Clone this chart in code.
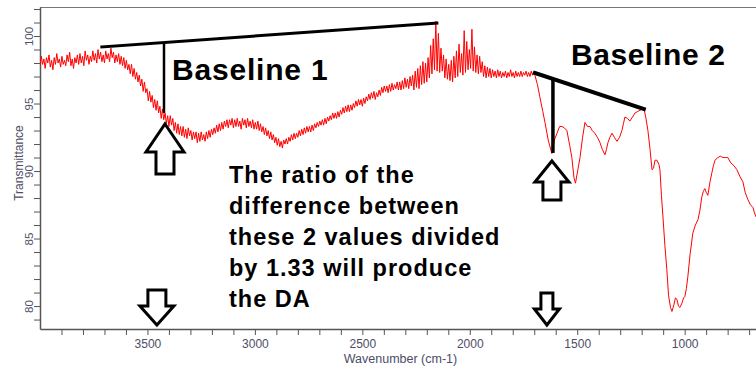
<!DOCTYPE html>
<html>
<head>
<meta charset="utf-8">
<script src="https://cdn.jsdelivr.net/npm/d3@7"></script>
<style>
  body { margin: 0; background: #fff; }
  text { font-family: 'Liberation Sans', Arial, sans-serif; }
</style>
</head>
<body>
<div id="chart"></div>
<script>
// FTIR spectrum, [wavenumber, transmittance]
// noisy part, 4000 - 1700 cm-1
var highRange = [
  [4000, 97.8], [3994, 98.5], [3988, 97.9], [3982, 98.3], [3976, 97.6], [3970, 98.4], [3964, 98.0], [3958, 98.6], [3952, 97.7], [3946, 98.2],
  [3940, 97.5], [3934, 98.4], [3928, 97.9], [3922, 98.7], [3916, 98.0], [3910, 98.3], [3904, 97.7], [3898, 98.5], [3892, 97.9], [3886, 98.2],
  [3880, 97.8], [3874, 98.6], [3868, 98.1], [3862, 98.8], [3856, 97.8], [3850, 98.3], [3844, 97.6], [3838, 98.4], [3832, 98.0], [3826, 98.6],
  [3820, 97.9], [3814, 98.7], [3808, 98.0], [3802, 98.5], [3796, 97.8], [3790, 98.9], [3784, 98.2], [3778, 98.6], [3772, 97.9], [3766, 98.5],
  [3760, 98.1], [3754, 98.9], [3748, 98.2], [3742, 98.7], [3736, 98.0], [3730, 99.0], [3724, 98.3], [3718, 98.8], [3712, 98.1], [3706, 98.6],
  [3700, 98.0], [3694, 98.9], [3688, 98.3], [3682, 98.7], [3676, 98.1], [3670, 99.1], [3664, 98.4], [3658, 98.8], [3652, 98.0], [3646, 98.6],
  [3640, 98.1], [3634, 98.7], [3628, 97.9], [3622, 98.5], [3616, 97.8], [3610, 98.4], [3604, 97.6], [3598, 98.2], [3592, 97.5], [3586, 97.9],
  [3580, 97.2], [3574, 97.9], [3568, 97.0], [3562, 97.6], [3556, 96.8], [3550, 97.3], [3544, 96.6], [3538, 97.1], [3532, 96.3], [3526, 96.8],
  [3520, 95.9], [3514, 96.6], [3508, 95.8], [3502, 96.1], [3496, 95.2], [3490, 95.9], [3484, 95.1], [3478, 95.6], [3472, 94.7], [3466, 95.3],
  [3460, 94.5], [3454, 95.2], [3448, 94.3], [3442, 94.8], [3436, 93.9], [3430, 94.6], [3424, 93.8], [3418, 94.3], [3412, 93.5], [3406, 94.1],
  [3400, 93.3], [3394, 94.1], [3388, 93.4], [3382, 93.9], [3376, 93.0], [3370, 93.6], [3364, 92.8], [3358, 93.5], [3352, 92.7], [3346, 93.3],
  [3340, 92.6], [3334, 93.3], [3328, 92.5], [3322, 93.1], [3316, 92.4], [3310, 93.2], [3304, 92.6], [3298, 93.0], [3292, 92.3], [3286, 92.9],
  [3280, 92.4], [3274, 92.9], [3268, 92.1], [3262, 92.8], [3256, 92.2], [3250, 92.9], [3244, 92.3], [3238, 92.7], [3232, 92.2], [3226, 92.9],
  [3220, 92.4], [3214, 93.0], [3208, 92.5], [3202, 93.1], [3196, 92.7], [3190, 93.2], [3184, 92.8], [3178, 93.4], [3172, 92.9], [3166, 93.5],
  [3160, 93.0], [3154, 93.6], [3148, 93.1], [3142, 93.7], [3136, 93.3], [3130, 93.8], [3124, 93.2], [3118, 93.8], [3112, 93.4], [3106, 93.9],
  [3100, 93.2], [3094, 93.8], [3088, 93.3], [3082, 93.9], [3076, 93.3], [3070, 93.7], [3064, 93.1], [3058, 93.9], [3052, 93.4], [3046, 93.8],
  [3040, 93.2], [3034, 93.9], [3028, 93.3], [3022, 93.7], [3016, 93.2], [3010, 93.8], [3004, 93.1], [2998, 93.6], [2992, 93.1], [2986, 93.7],
  [2980, 93.0], [2974, 93.5], [2968, 92.9], [2962, 93.3], [2956, 92.7], [2950, 93.2], [2944, 92.6], [2938, 93.0], [2932, 92.4], [2926, 92.9],
  [2920, 92.3], [2914, 92.7], [2908, 92.1], [2902, 92.5], [2896, 91.9], [2890, 92.4], [2884, 91.8], [2878, 92.2], [2872, 91.7], [2866, 92.3],
  [2860, 92.0], [2854, 92.4], [2848, 92.0], [2842, 92.5], [2836, 92.2], [2830, 92.7], [2824, 92.3], [2818, 92.8], [2812, 92.4], [2806, 92.8],
  [2800, 92.5], [2794, 93.0], [2788, 92.6], [2782, 93.1], [2776, 92.7], [2770, 93.2], [2764, 92.8], [2758, 93.3], [2752, 92.9], [2746, 93.3],
  [2740, 92.9], [2734, 93.4], [2728, 93.0], [2722, 93.5], [2716, 93.2], [2710, 93.6], [2704, 93.3], [2698, 93.7], [2692, 93.4], [2686, 93.8],
  [2680, 93.4], [2674, 93.9], [2668, 93.5], [2662, 94.0], [2656, 93.7], [2650, 94.1], [2644, 93.8], [2638, 94.3], [2632, 93.9], [2626, 94.3],
  [2620, 93.9], [2614, 94.4], [2608, 94.0], [2602, 94.5], [2596, 94.2], [2590, 94.7], [2584, 94.3], [2578, 94.8], [2572, 94.4], [2566, 94.9],
  [2560, 94.4], [2554, 94.9], [2548, 94.5], [2542, 95.0], [2536, 94.7], [2530, 95.2], [2524, 94.8], [2518, 95.3], [2512, 94.9], [2506, 95.3],
  [2500, 94.8], [2494, 95.4], [2488, 95.0], [2482, 95.5], [2476, 95.2], [2470, 95.7], [2464, 95.3], [2458, 95.8], [2452, 95.4], [2446, 95.9],
  [2440, 95.3], [2434, 95.8], [2428, 95.5], [2422, 96.0], [2416, 95.6], [2410, 96.2], [2404, 95.8], [2398, 96.3], [2392, 95.9], [2386, 96.3],
  [2380, 95.8], [2374, 96.4], [2368, 95.9], [2362, 96.5], [2356, 96.0], [2350, 96.4], [2344, 96.1], [2338, 96.6], [2332, 96.0], [2326, 96.6],
  [2320, 96.0], [2314, 96.7], [2308, 96.1], [2302, 96.9], [2296, 96.2], [2290, 96.8], [2284, 96.1], [2278, 97.0], [2272, 96.3], [2266, 97.1],
  [2260, 96.0], [2254, 97.4], [2248, 96.2], [2242, 97.6], [2236, 96.1], [2230, 97.8], [2224, 96.4], [2218, 98.1], [2212, 96.5], [2206, 98.0],
  [2200, 96.6], [2194, 98.4], [2188, 96.9], [2182, 99.3], [2176, 97.2], [2170, 99.8], [2164, 97.5], [2158, 101.1], [2152, 97.4], [2146, 100.2],
  [2140, 97.3], [2134, 99.1], [2128, 97.4], [2122, 98.6], [2116, 96.9], [2110, 98.3], [2104, 96.8], [2098, 97.9], [2092, 96.7], [2086, 98.2],
  [2080, 96.6], [2074, 98.5], [2068, 96.9], [2062, 98.9], [2056, 97.0], [2050, 99.4], [2044, 97.3], [2038, 98.7], [2032, 97.1], [2026, 100.4],
  [2020, 97.3], [2014, 99.6], [2008, 97.5], [2002, 99.0], [1996, 97.6], [1990, 100.5], [1984, 97.4], [1978, 99.2], [1972, 97.3], [1966, 98.6],
  [1960, 97.2], [1954, 98.5], [1948, 97.3], [1942, 98.1], [1936, 97.0], [1930, 97.8], [1924, 96.9], [1918, 97.7], [1912, 97.0], [1906, 97.6],
  [1900, 96.9], [1894, 97.5], [1888, 97.0], [1882, 97.4], [1876, 96.9], [1870, 97.5], [1864, 97.0], [1858, 97.4], [1852, 96.9], [1846, 97.3],
  [1840, 97.0], [1834, 97.4], [1828, 96.9], [1822, 97.3], [1816, 97.0], [1810, 97.5], [1804, 97.0], [1798, 97.3], [1792, 96.9], [1786, 97.4],
  [1780, 97.0], [1774, 97.3], [1768, 97.0], [1762, 97.4], [1756, 97.0], [1750, 97.3], [1744, 97.1], [1738, 97.4], [1732, 97.0], [1726, 97.3],
  [1720, 97.0], [1714, 97.4], [1708, 97.1], [1702, 97.3]
]

// fingerprint part, 1700 - 668 cm-1
var lowRange = [
  [1697, 97.1], [1685, 96.4], [1674, 95.5], [1660, 94.4], [1650, 93.6], [1635, 92.3],
  [1618, 91.3], [1606, 92.3], [1594, 92.8], [1582, 93.3], [1571, 93.3], [1560, 93.2],
  [1548, 93.0], [1535, 91.9], [1525, 91.0], [1515, 89.5], [1508, 89.1], [1497, 90.1],
  [1487, 91.0], [1475, 92.5], [1464, 93.6], [1452, 93.3], [1441, 93.3], [1430, 93.0],
  [1418, 92.8], [1406, 92.5], [1394, 92.1], [1383, 91.6], [1371, 91.2], [1364, 91.6],
  [1357, 92.1], [1348, 92.5], [1338, 92.8], [1327, 92.5], [1315, 92.2], [1303, 92.5],
  [1292, 93.0], [1285, 93.5], [1278, 94.0], [1266, 93.9], [1255, 93.7], [1243, 94.0],
  [1231, 94.3], [1220, 94.4], [1208, 94.5], [1195, 94.6], [1189, 94.6], [1180, 93.9],
  [1171, 93.0], [1161, 91.6], [1152, 90.1], [1145, 90.2], [1138, 90.8], [1129, 90.8],
  [1120, 90.5], [1115, 90.1], [1108, 88.2], [1101, 86.6], [1092, 84.5], [1083, 82.7],
  [1075, 80.8], [1066, 79.9], [1059, 79.6], [1050, 80.1], [1043, 80.6], [1036, 80.5],
  [1029, 80.0], [1022, 79.9], [1013, 80.2], [1005, 80.6], [999, 80.7], [992, 81.3],
  [985, 82.2], [975, 83.8], [962, 85.4], [950, 86.0], [938, 86.4], [929, 87.1],
  [920, 88.1], [913, 88.5], [906, 88.7], [899, 88.4], [892, 88.2], [882, 89.2],
  [873, 89.9], [866, 90.4], [859, 90.8], [845, 91.0], [834, 91.1], [822, 91.0],
  [810, 91.0], [799, 91.0], [785, 90.6], [771, 90.4], [757, 90.1], [743, 89.6],
  [729, 89.2], [718, 88.4], [706, 87.9], [694, 87.5], [682, 87.3], [675, 86.9],
  [668, 86.6]
]

var xTicks = d3.range(3900, 600, -100)
var xLabels = [3500, 3000, 2500, 2000, 1500, 1000]
var yTicks = d3.range(79, 103)
var yLabels = [80, 85, 90, 95, 100]

// annotation anchors (data units)
var baseline1 = [[3712, 99.19], [2153, 100.96]]
var baseline2 = [[1697, 97.26], [1190, 94.6]]
var peakWave = [3423, 1613]
var peakValue = [94.3, 91.34]
var downArrowWave = [3456, 1641]

var note = [
  'The ratio of the',
  'difference between',
  'these 2 values divided',
  'by 1.33 will produce',
  'the DA'
]

var width = 756
var height = 370
var margin = { top: 7, left: 40, right: 0, bottom: 41 }

var svg = d3
  .select('#chart')
  .append('svg')
  .attr('width', width)
  .attr('height', height)

var x = d3
  .scaleLinear()
  .domain([4000, 668])
  .range([margin.left, width - margin.right])

var y = d3
  .scaleLinear()
  .domain([78.3, 102.15])
  .range([height - margin.bottom, margin.top])

var axisColor = '#555'
var labelColor = '#4d4d66'

// frame top
svg
  .append('line')
  .attr('x1', margin.left)
  .attr('x2', width)
  .attr('y1', margin.top + 0.5)
  .attr('y2', margin.top + 0.5)
  .attr('stroke', '#777')
  .attr('stroke-width', 1)

// x axis
var xAxis = svg
  .append('g')
  .attr('transform', 'translate(0,' + (height - margin.bottom) + ')')
  .call(
    d3
      .axisBottom(x)
      .tickValues(xTicks)
      .tickSize(6)
      .tickSizeOuter(0)
      .tickPadding(4)
      .tickFormat(d => (xLabels.indexOf(d) >= 0 ? d : ''))
  )
xAxis.select('.domain').attr('stroke', axisColor).attr('stroke-width', 1.5)
xAxis.selectAll('.tick line').attr('stroke', axisColor)
xAxis
  .selectAll('.tick text')
  .attr('fill', labelColor)
  .attr('font-size', 12)
  .attr('font-family', "'Liberation Sans', Arial, sans-serif")

// y axis
var yAxis = svg
  .append('g')
  .attr('transform', 'translate(' + margin.left + ',0)')
  .call(
    d3
      .axisLeft(y)
      .tickValues(yTicks)
      .tickSize(6)
      .tickSizeOuter(0)
      .tickFormat(d => (yLabels.indexOf(d) >= 0 ? d : ''))
  )
yAxis.select('.domain').attr('stroke', axisColor).attr('stroke-width', 1.5)
yAxis.selectAll('.tick line').attr('stroke', axisColor)
yAxis
  .selectAll('.tick text')
  .attr('x', null)
  .attr('dy', null)
  .attr('transform', 'translate(-7.5,0) rotate(-90)')
  .attr('text-anchor', 'middle')
  .attr('fill', labelColor)
  .attr('font-size', 11.5)
  .attr('font-family', "'Liberation Sans', Arial, sans-serif")

// axis titles
svg
  .append('text')
  .attr('x', 400.5)
  .attr('y', 363)
  .attr('text-anchor', 'middle')
  .attr('font-size', 12.5)
  .attr('fill', labelColor)
  .text('Wavenumber (cm-1)')

svg
  .append('text')
  .attr('transform', 'translate(23,163) rotate(-90)')
  .attr('text-anchor', 'middle')
  .attr('font-size', 12)
  .attr('fill', labelColor)
  .text('Transmittance')

// spectrum
svg
  .append('clipPath')
  .attr('id', 'plot-clip')
  .append('rect')
  .attr('x', margin.left)
  .attr('y', margin.top)
  .attr('width', width - margin.left)
  .attr('height', height - margin.top - margin.bottom)

var line = d3
  .line()
  .x(d => x(d[0]))
  .y(d => y(d[1]))

svg
  .append('path')
  .datum(highRange.concat(lowRange))
  .attr('clip-path', 'url(#plot-clip)')
  .attr('d', line)
  .attr('fill', 'none')
  .attr('stroke', '#ff0000')
  .attr('stroke-width', 1)
  .attr('stroke-linejoin', 'round')

// baselines + drop lines
function valueOn(seg, w) {
  var t = (w - seg[0][0]) / (seg[1][0] - seg[0][0])
  return seg[0][1] + t * (seg[1][1] - seg[0][1])
}

;[baseline1, baseline2].forEach(function(seg, i) {
  svg
    .append('line')
    .attr('x1', x(seg[0][0]))
    .attr('y1', y(seg[0][1]))
    .attr('x2', x(seg[1][0]))
    .attr('y2', y(seg[1][1]))
    .attr('stroke', 'black')
    .attr('stroke-width', i === 0 ? 3 : 4)
    .attr('stroke-linecap', 'square')

  svg
    .append('line')
    .attr('x1', x(peakWave[i]))
    .attr('x2', x(peakWave[i]))
    .attr('y1', y(valueOn(seg, peakWave[i])))
    .attr('y2', y(peakValue[i]))
    .attr('stroke', 'black')
    .attr('stroke-width', i === 0 ? 2.5 : 3.5)
})

// hollow block arrows
function arrow(tx, ty, dir, headHalf, headLen, shaftHalf, total) {
  // dir = 1 points up (body below the tip), -1 points down
  var s = dir
  var pts = [
    [tx, ty],
    [tx + headHalf, ty + s * headLen],
    [tx + shaftHalf, ty + s * headLen],
    [tx + shaftHalf, ty + s * total],
    [tx - shaftHalf, ty + s * total],
    [tx - shaftHalf, ty + s * headLen],
    [tx - headHalf, ty + s * headLen]
  ]
  svg
    .append('path')
    .attr('d', 'M' + pts.join('L') + 'Z')
    .attr('fill', 'white')
    .attr('stroke', 'black')
    .attr('stroke-width', 3)
    .attr('stroke-linejoin', 'miter')
}

arrow(x(peakWave[0]) + 1, y(peakValue[0]) + 11, 1, 19, 28, 9, 50)
arrow(x(peakWave[1]) - 1, y(peakValue[1]) + 8, 1, 17, 21, 9, 39)
arrow(x(downArrowWave[0]), height - margin.bottom - 4, -1, 17, 19, 9, 35)
arrow(x(downArrowWave[1]), height - margin.bottom - 4, -1, 12.5, 16, 6, 32)

// labels
svg
  .append('text')
  .attr('x', 172)
  .attr('y', 80)
  .attr('font-size', 30)
  .attr('font-weight', 'bold')
  .attr('letter-spacing', 0.8)
  .text('Baseline 1')

svg
  .append('text')
  .attr('x', 571)
  .attr('y', 65)
  .attr('font-size', 30)
  .attr('font-weight', 'bold')
  .attr('letter-spacing', 0.6)
  .text('Baseline 2')

svg
  .append('g')
  .selectAll('text')
  .data(note)
  .enter()
  .append('text')
  .attr('x', 229)
  .attr('y', (d, i) => 183 + i * 31)
  .attr('font-size', 23.5)
  .attr('font-weight', 'bold')
  .attr('letter-spacing', 1)
  .text(d => d)
</script>
</body>
</html>
